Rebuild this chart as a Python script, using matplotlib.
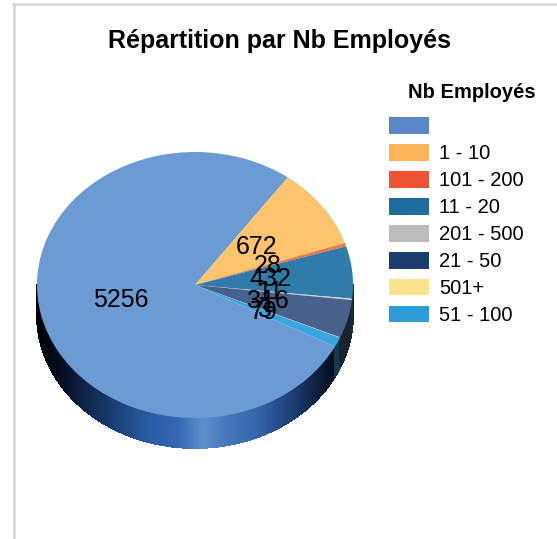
import numpy as np
import matplotlib
matplotlib.use("Agg")
import matplotlib.pyplot as plt
from matplotlib.patches import Patch
from matplotlib.collections import PolyCollection
from matplotlib.colors import to_rgb, LinearSegmentedColormap
from matplotlib.lines import Line2D

plt.rcParams['font.family'] = ['Liberation Sans', 'DejaVu Sans']

# data
categories = ['', '1 - 10', '101 - 200', '11 - 20', '201 - 500', '21 - 50', '501+', '51 - 100']
counts = [5256, 672, 28, 432, 11, 316, 3, 79]

legend_colors = ['#5b87c7', '#fbb456', '#ee5433', '#1f6d9d', '#bdbdbd', '#1b3c6d', '#fde38b', '#2e9dd7']
top_colors = ['#6b9bd2', '#fdc46e', '#f0773f', '#2f7cab', '#d0d0d0', '#46618c', '#fde9a0', '#38a6e0']

W, H = 557, 539
fig = plt.figure(figsize=(W / 100, H / 100), dpi=100)

# grey frame, top and left only
fig.add_artist(Line2D([13 / W, 1], [1 - 4 / H, 1 - 4 / H], color='#d9d9d9', lw=2))
fig.add_artist(Line2D([14 / W, 14 / W], [0, 1 - 4 / H], color='#d9d9d9', lw=2))

fig.text(280 / W, 1 - 41 / H, 'Répartition par Nb Employés', ha='center', va='center',
         fontsize=18, fontweight='bold')

# axes placed so that 1 unit = rx px horizontally and ry px vertically (tilted pie)
cx, cy, rx, ry = 195, H - 285, 158, 133
x0, x1, y0, y1 = -1.2, 1.2, -1.5, 1.2
ax = fig.add_axes([(cx + x0 * rx) / W, (cy + y0 * ry) / H,
                   (x1 - x0) * rx / W, (y1 - y0) * ry / H])

total = sum(counts)
wedges, texts, autotexts = ax.pie(
    counts, colors=top_colors, startangle=332.4, counterclock=False,
    autopct=lambda p: f'{p * total / 100:.0f}', pctdistance=0.48,
    textprops=dict(fontsize=18, color='black'),
    wedgeprops=dict(linewidth=0, zorder=2))
ax.set_aspect('auto')
ax.set_xlim(x0, x1)
ax.set_ylim(y0, y1)
ax.axis('off')

# side of the pie (front half only)
depth = 30 / ry
side_cmap = LinearSegmentedColormap.from_list('side', [
    (0.0, '#000000'), (0.08, '#050d22'), (0.2, '#14325f'), (0.36, '#2a5da6'),
    (0.45, '#3468b3'), (0.53, '#5e8fcd'), (0.6, '#4778bd'), (0.7, '#3464ab'),
    (0.82, '#1b3b72'), (0.92, '#08142e'), (1.0, '#000000')])

polys, cols = [], []
steps = np.linspace(180, 360, 721)
for a, b in zip(steps[:-1], steps[1:]):
    mid = (a + b) / 2
    idx = 0
    for i, w in enumerate(wedges):
        if (mid - w.theta1) % 360 < (w.theta2 - w.theta1):
            idx = i
            break
    ta, tb = np.radians(a), np.radians(b)
    xa, ya, xb, yb = np.cos(ta), np.sin(ta), np.cos(tb), np.sin(tb)
    polys.append([(xa, ya), (xb, yb), (xb, yb - depth), (xa, ya - depth)])
    u = (np.cos(np.radians(mid)) + 1) / 2
    if idx == 0:
        cols.append(side_cmap(u))
    else:
        cols.append(tuple(np.array(to_rgb(top_colors[idx])) * 0.35) + (1,))
ax.add_collection(PolyCollection(polys, facecolors=cols, edgecolors=cols, linewidths=0.6,
                                 antialiased=False, zorder=1))

# legend
handles = [Patch(facecolor=c, edgecolor='none') for c in legend_colors]
fig.legend(handles, categories, loc='upper left', bbox_to_anchor=(389 / W, 1 - 117 / H),
           frameon=False, fontsize=14.5, handlelength=2.0, handleheight=0.9,
           handletextpad=0.5, labelspacing=0.38, borderpad=0, borderaxespad=0)
fig.text(472 / W, 1 - 93 / H, 'Nb Employés', ha='center', va='center',
         fontsize=14.5, fontweight='bold')

fig.savefig('out.png', dpi=100)
